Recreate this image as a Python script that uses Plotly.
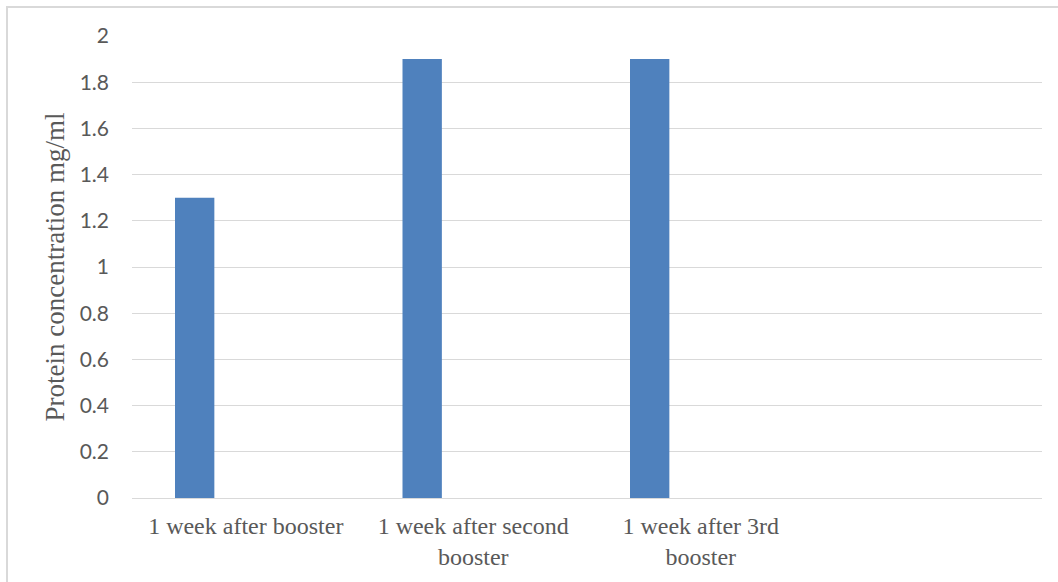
import plotly.graph_objects as go

categories = ["1 week after booster", "1 week after second<br>booster", "1 week after 3rd<br>booster"]
values = [1.3, 1.9, 1.9]
y_ticks = [0, 0.2, 0.4, 0.6, 0.8, 1, 1.2, 1.4, 1.6, 1.8, 2]
y_tick_labels = ["0", "0.2", "0.4", "0.6", "0.8", "1", "1.2", "1.4", "1.6", "1.8", "2"]
y_title = "Protein concentration mg/ml"

fig = go.Figure()
fig.add_trace(go.Bar(
    x=categories, y=values,
    marker=dict(color="#4f81bd", line=dict(width=0)),
    width=0.173, offset=-0.311,
))

W, H = 1058, 582
ml, mr, mt, mb = 132, 16, 36, 84
pw, ph = W - ml - mr, H - mt - mb

fig.update_layout(
    width=W, height=H,
    margin=dict(l=ml, r=mr, t=mt, b=mb),
    plot_bgcolor="white", paper_bgcolor="white",
    showlegend=False,
    xaxis=dict(
        type="category", range=[-0.5, 3.5],
        showgrid=False, showline=True, linecolor="#d9d9d9", linewidth=1,
        ticks="", ticklen=0, ticklabelstandoff=6,
        tickfont=dict(family="Liberation Serif", size=24, color="#595959"),
    ),
    yaxis=dict(
        range=[0, 2], tickvals=y_ticks, ticktext=y_tick_labels,
        showgrid=True, gridcolor="#d9d9d9", gridwidth=1,
        zeroline=False, showline=False, ticks="",
        tickfont=dict(family="Lato", size=21, color="#595959"),
        ticklabelstandoff=22,
        title=dict(text=y_title, standoff=7,
                   font=dict(family="Liberation Serif", size=27, color="#595959")),
    ),
    shapes=[dict(
        type="rect", xref="paper", yref="paper",
        x0=(7 - ml) / pw, x1=(W + 5 - ml) / pw,
        y0=((H - mb) - (H + 5)) / ph, y1=((H - mb) - 7) / ph,
        line=dict(color="#d9d9d9", width=2), fillcolor="rgba(0,0,0,0)", layer="below",
    )],
)

fig.write_html("out.html")
